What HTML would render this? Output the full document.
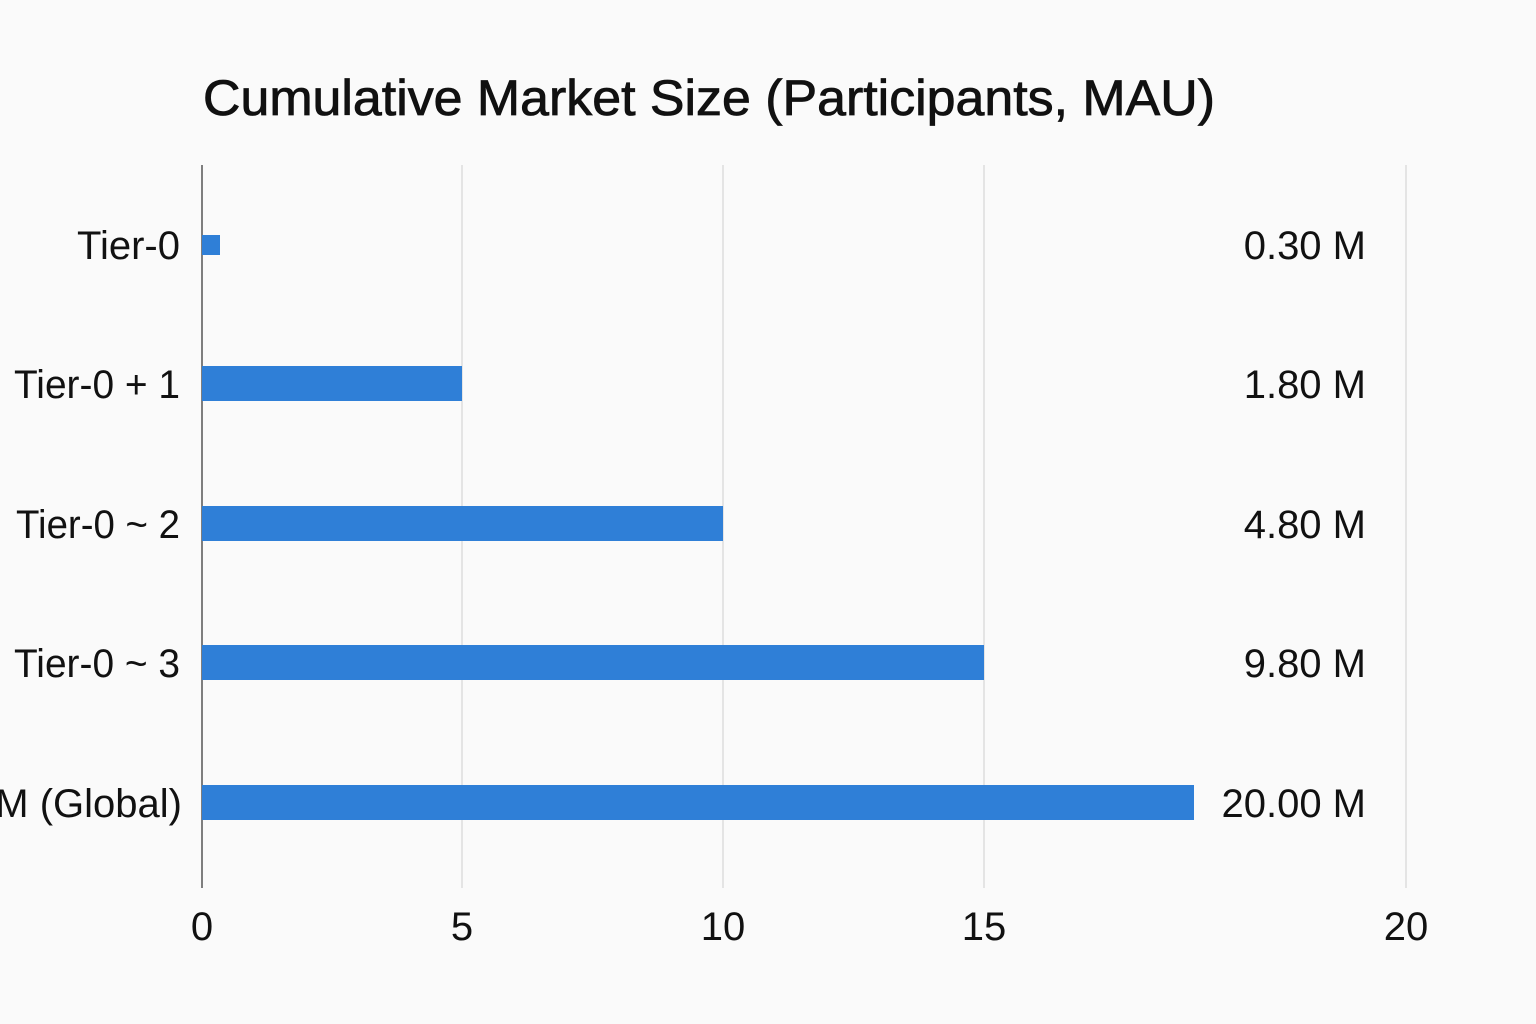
<!DOCTYPE html>
<html><head><meta charset="utf-8"><style>
body{margin:0;background:#fafafa;}
svg{display:block;font-family:"Liberation Sans","DejaVu Sans",sans-serif;}
</style></head><body>
<svg width="1536" height="1024" viewBox="0 0 1536 1024">
<rect width="1536" height="1024" fill="#fafafa"/>
<text x="203" y="115" font-size="50" fill="#111" stroke="#111" stroke-width="0.8" textLength="1012" lengthAdjust="spacingAndGlyphs">Cumulative Market Size (Participants, MAU)</text>
<g stroke="#dcdcdc" stroke-width="1.5">
<line x1="462" y1="165" x2="462" y2="888"/>
<line x1="723" y1="165" x2="723" y2="888"/>
<line x1="984" y1="165" x2="984" y2="888"/>
<line x1="1406" y1="165" x2="1406" y2="888"/>
</g>
<line x1="202" y1="165" x2="202" y2="888" stroke="#555" stroke-width="1.5"/>
<g fill="#2f7fd7">
<rect x="202" y="235" width="18" height="20"/>
<rect x="202" y="366" width="260" height="35"/>
<rect x="202" y="506" width="521" height="35"/>
<rect x="202" y="645" width="782" height="35"/>
<rect x="202" y="785" width="992" height="35"/>
</g>
<g font-size="40" fill="#111" text-anchor="end">
<text x="180" y="259">Tier-0</text>
<text x="180" y="398" textLength="166" lengthAdjust="spacingAndGlyphs">Tier-0 + 1</text>
<text x="180" y="538" textLength="164" lengthAdjust="spacingAndGlyphs">Tier-0 ~ 2</text>
<text x="180" y="677" textLength="166" lengthAdjust="spacingAndGlyphs">Tier-0 ~ 3</text>
<text x="182" y="817">M (Global)</text>
<text x="1366" y="259">0.30 M</text>
<text x="1366" y="398">1.80 M</text>
<text x="1366" y="538">4.80 M</text>
<text x="1366" y="677">9.80 M</text>
<text x="1366" y="817">20.00 M</text>
</g>
<g font-size="40" fill="#111" text-anchor="middle">
<text x="202" y="940">0</text>
<text x="462" y="940">5</text>
<text x="723" y="940">10</text>
<text x="984" y="940">15</text>
<text x="1406" y="940">20</text>
</g>
</svg>
</body></html>
